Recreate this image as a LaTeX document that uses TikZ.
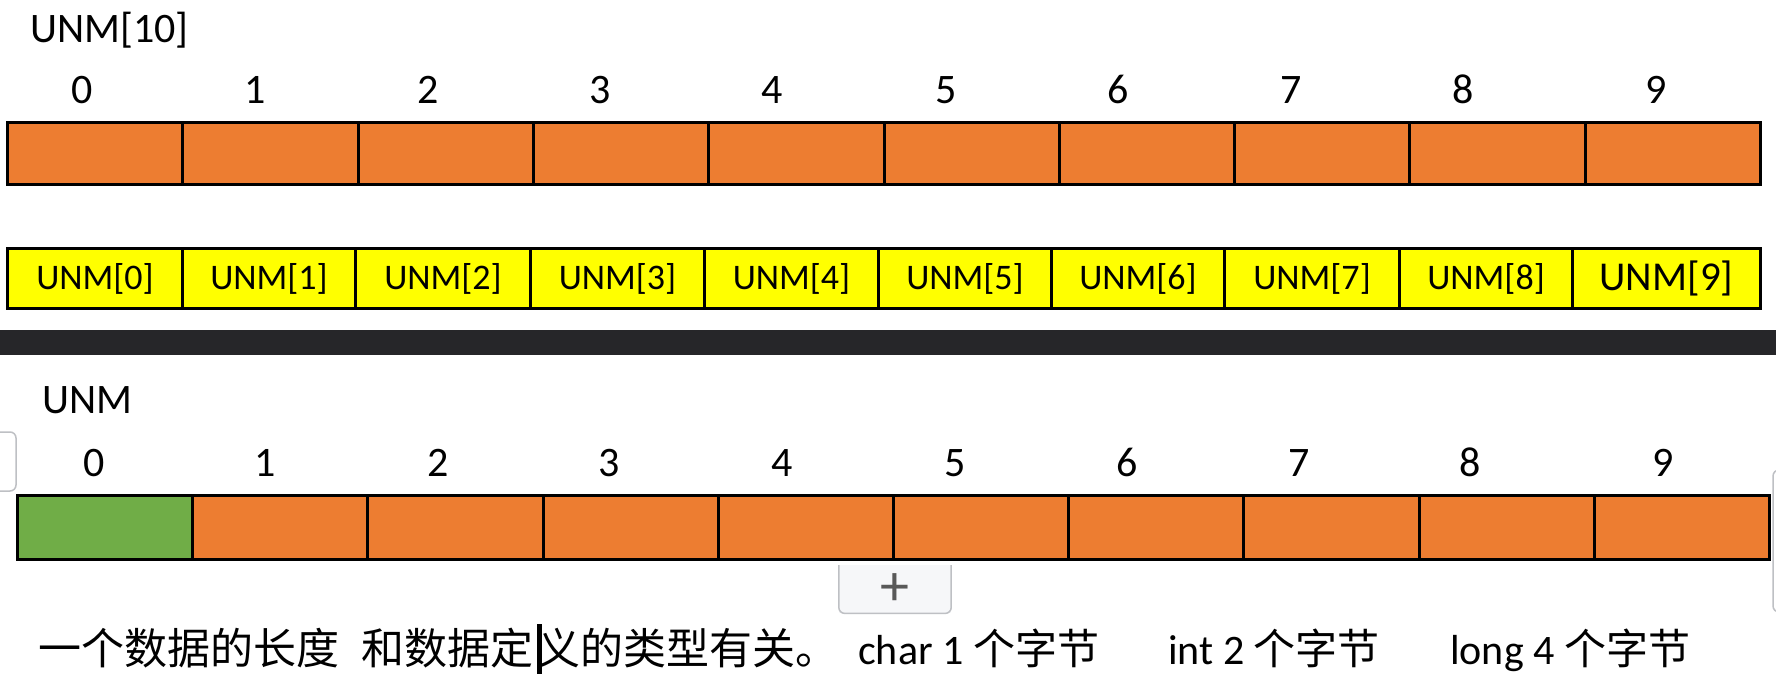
\documentclass[tikz,border=0pt]{standalone}
\usepackage{fontspec}
\usepackage{tikz}
\setmainfont{Carlito}
\newfontfamily\cjk{Noto Sans CJK SC}
\usetikzlibrary{positioning}

\definecolor{cellorange}{RGB}{237,125,49}
\definecolor{cellgreen}{RGB}{112,173,71}
\definecolor{cellyellow}{RGB}{255,255,0}
\definecolor{barcol}{RGB}{38,38,41}
\definecolor{tabline}{RGB}{190,192,196}
\definecolor{tabfill}{RGB}{246,247,249}

\begin{document}
\begin{tikzpicture}[x=1pt, y=-1pt]
		\tikzstyle{every node}=[inner sep=0pt, text=black]
		\tikzstyle{cellbox}=[draw=black, line width=3pt, anchor=north west]
		\tikzstyle{idx}=[font=\fontsize{42}{42}\selectfont, anchor=base]
		\tikzstyle{title}=[font=\fontsize{42}{42}\selectfont, anchor=base west]
		\tikzstyle{remark}=[font=\fontsize{43}{43}\selectfont, anchor=base west]
		\tikzstyle{handle}=[draw=tabline, line width=1.5pt, rounded corners=6pt]

		\useasboundingbox (0,0) rectangle (1776,684);
		\fill[white] (0,0) rectangle (1776,684);

		% upper array
		\node[title] (Title1) at (30,43) {UNM[10]};
		\foreach \i/\x in {0/82,1/255,2/428,3/600,4/772,5/946,6/1118,7/1291,8/1463,9/1656}
			\node[idx] (t\i) at (\x,104) {\i};
		\foreach \i in {0,...,9}
			\node[cellbox, fill=cellorange, minimum width=175.3pt, minimum height=62pt]
				(a\i) at ({6+175.3*\i},121) {};

		% element names
		\foreach \i/\xa/\xb/\fs in {0/6/181/36,1/181/354/36,2/354/529/36,3/529/703/36,4/703/877/36,
				5/877/1050/36,6/1050/1223/36,7/1223/1398/36,8/1398/1571/36,9/1571/1759/41}
			\node[cellbox, fill=cellyellow, minimum width={(\xb-\xa)*1pt}, minimum height=60pt,
				font=\fontsize{\fs}{\fs}\selectfont] (b\i) at (\xa,247) {UNM[\i]};

		\fill[barcol] (0,330) rectangle (1776,355);

		% lower array
		\node[title] (Title2) at (42,413) {UNM};
		\foreach \i/\x in {0/94,1/265,2/438,3/609,4/782,5/955,6/1127,7/1299,8/1470,9/1663}
			\node[idx] (u\i) at (\x,476) {\i};
		\node[cellbox, fill=cellgreen, minimum width=175.2pt, minimum height=64pt] (c0) at (16,494) {};
		\foreach \i in {1,...,9}
			\node[cellbox, fill=cellorange, minimum width=175.2pt, minimum height=64pt]
				(c\i) at ({16+175.2*\i},494) {};

		% editor handles
		\node[below=4pt of c4.south east, minimum width=112pt, minimum height=48pt, fill=tabfill,
			text=black!65, font=\fontsize{58}{58}\selectfont] (plus) {+};
		\draw[handle] (plus.north west) -- (plus.south west) -- (plus.south east) -- (plus.north east);
		\coordinate (lh) at (-12,432);
		\draw[handle] (lh) rectangle (16,491);
		\coordinate (rh) at (1790,470);
		\draw[handle] (rh) -- (1773,470) -- (1773,612) -- (1790,612);

		% remark
		\node[remark] (r1) at (38,664) {\cjk 一个数据的长度};
		\node[remark] (r2) at (361,664) {\cjk 和数据定};
		\node[remark] (r3) at (537,664) {\cjk 义的类型有关。};
		\coordinate (caret) at (539,624);
		\draw[line width=5pt] (caret) -- ++(0,50);
		\node[remark, font=\fontsize{42}{42}\selectfont] (r4) at (858,664) {char 1 {\cjk 个字节}};
		\node[remark, font=\fontsize{42}{42}\selectfont] (r5) at (1168,664) {int 2 {\cjk 个字节}};
		\node[remark, font=\fontsize{42}{42}\selectfont] (r6) at (1450,664) {long 4 {\cjk 个字节}};
\end{tikzpicture}
\end{document}
